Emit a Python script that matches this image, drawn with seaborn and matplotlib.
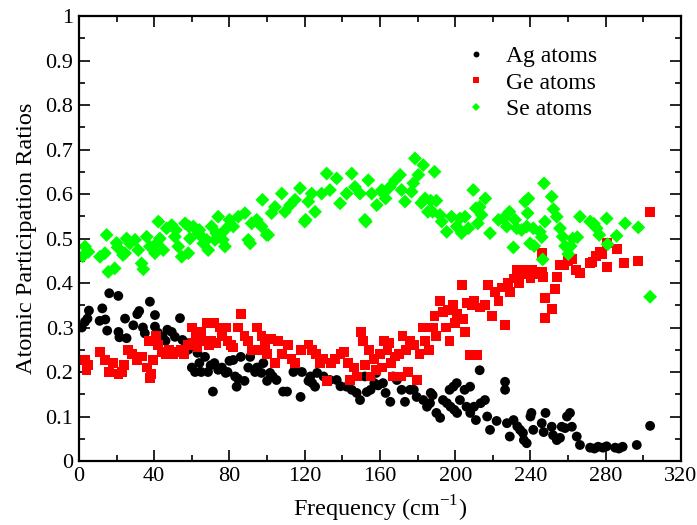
import matplotlib
matplotlib.use("Agg")
import matplotlib.pyplot as plt
from matplotlib.ticker import MultipleLocator, FormatStrFormatter
import seaborn as sns
import pandas as pd

# Participation ratios of Ag atoms per vibrational mode: (frequency, ratio)
ag_freq = [1.5, 3.2, 5.3, 4.5, 11, 12.4, 14, 15, 16.1, 20.9, 21, 21.5, 24.5, 25.3, 28.9, 31, 32, 34, 35,
           37.7, 40.4, 40.4, 42, 44.5, 46, 47, 49.3, 51, 53.7, 55, 57, 58, 60, 61.7, 63, 64, 65, 67, 68.6,
           70, 71.2, 72, 74, 76, 78, 79, 80, 82, 83, 83.8, 84.5, 86, 88, 90, 91, 93.6, 94.6, 97, 98, 100,
           101.6, 103, 105, 108.5, 110.6, 114, 115, 117.8, 118.5, 122, 123, 124, 125.5, 126.6, 130, 133.4,
           137, 139, 142.3, 145, 147.6, 149.4, 152, 153, 155, 157, 158, 159, 161.6, 163, 165.5, 167, 169,
           171.5, 173.3, 176, 178, 179.5, 183, 185, 186.6, 187, 188, 190, 192, 193.5, 195.6, 197, 197.5,
           199, 199.5, 200.8, 201, 202.5, 205, 206, 207.9, 208, 210, 211, 213, 213.5, 215.8, 217, 218.5,
           222, 226.5, 226.5, 227.5, 229, 231, 233, 234.5, 236, 236.5, 238, 240, 240.5, 241.5, 246, 247,
           248, 251.3, 252, 254, 255.7, 256.6, 258.4, 259.4, 261, 262, 264.6, 266.3, 271.7, 274, 276,
           278.5, 280.5, 285, 287, 289, 296.5, 303.6]
ag_ratio = [0.30, 0.313, 0.338, 0.32, 0.315, 0.343, 0.318, 0.293, 0.377, 0.371, 0.29, 0.278, 0.32, 0.276,
            0.305, 0.33, 0.337, 0.30, 0.287, 0.358, 0.328, 0.302, 0.288, 0.279, 0.27, 0.295, 0.29, 0.279,
            0.321, 0.272, 0.265, 0.25, 0.21, 0.20, 0.243, 0.22, 0.20, 0.234, 0.20, 0.215, 0.156, 0.22,
            0.205, 0.21, 0.198, 0.20, 0.225, 0.227, 0.19, 0.167, 0.185, 0.234, 0.18, 0.21, 0.234, 0.20,
            0.21, 0.198, 0.22, 0.18, 0.198, 0.19, 0.182, 0.156, 0.156, 0.20, 0.21, 0.144, 0.20, 0.18, 0.19,
            0.175, 0.167, 0.198, 0.19, 0.182, 0.182, 0.168, 0.167, 0.16, 0.153, 0.137, 0.19, 0.155, 0.16,
            0.175, 0.198, 0.17, 0.175, 0.153, 0.133, 0.19, 0.182, 0.16, 0.133, 0.16, 0.16, 0.144, 0.137,
            0.122, 0.13, 0.153, 0.148, 0.108, 0.097, 0.137, 0.13, 0.16, 0.122, 0.167, 0.115, 0.175, 0.108,
            0.137, 0.16, 0.122, 0.167, 0.108, 0.122, 0.092, 0.204, 0.13, 0.137, 0.10, 0.07, 0.09, 0.178,
            0.16, 0.085, 0.055, 0.092, 0.078, 0.07, 0.063, 0.047, 0.04, 0.10, 0.108, 0.07, 0.085, 0.065,
            0.108, 0.077, 0.058, 0.047, 0.052, 0.077, 0.074, 0.10, 0.108, 0.077, 0.055, 0.036, 0.03, 0.028,
            0.032, 0.03, 0.033, 0.03, 0.028, 0.032, 0.036, 0.079]

# Participation ratios of Ge atoms
ge_freq = [3, 4, 5, 11, 14, 16, 18, 21, 23, 24, 26, 28, 31, 33.5, 36, 37, 37.8, 38.5, 39.5, 41, 42, 44,
           46, 48, 50, 52, 54, 56, 58, 60, 60.5, 62, 63, 65, 66, 68, 69, 70, 72, 73, 75, 76, 78, 79, 81,
           82, 84.5, 86, 88, 90, 92, 94.7, 97, 97.5, 99, 100, 102, 104, 106, 108, 111, 113, 115, 118, 122,
           124, 126, 128, 130, 132, 134, 136, 139, 141, 143, 144, 146, 148, 150, 151, 152, 154, 155, 157,
           158, 160, 161, 162, 164, 165, 166, 167, 168, 170, 171, 172, 174, 175, 176, 178, 179.5, 181,
           183, 184, 186, 188, 189, 190, 192, 193.5, 195, 196, 197, 199, 200, 201, 203.4, 204, 205, 206,
           208, 209, 210, 211.6, 213, 216, 217.5, 219.5, 221, 223, 225, 226.5, 228, 229, 231, 233, 234,
           236, 238, 240, 241, 243, 245, 246, 246, 246.5, 247.7, 247.7, 251.3, 253, 254, 255.7, 258, 260,
           262, 264, 266.3, 271.7, 273, 275, 277, 278, 280.5, 280.5, 285.8, 289.7, 297, 303.6]
ge_ratio = [0.227, 0.205, 0.215, 0.245, 0.227, 0.20, 0.22, 0.195, 0.20, 0.215, 0.25, 0.24, 0.227, 0.235,
            0.21, 0.27, 0.187, 0.195, 0.227, 0.28, 0.26, 0.245, 0.24, 0.25, 0.24, 0.245, 0.25, 0.24, 0.26,
            0.30, 0.265, 0.28, 0.255, 0.29, 0.27, 0.31, 0.26, 0.27, 0.31, 0.265, 0.30, 0.28, 0.30, 0.27,
            0.26, 0.255, 0.30, 0.33, 0.28, 0.27, 0.25, 0.30, 0.28, 0.25, 0.26, 0.24, 0.275, 0.22, 0.27,
            0.24, 0.26, 0.23, 0.22, 0.25, 0.262, 0.25, 0.24, 0.22, 0.23, 0.18, 0.22, 0.23, 0.24, 0.245,
            0.22, 0.182, 0.21, 0.19, 0.29, 0.27, 0.215, 0.25, 0.19, 0.23, 0.205, 0.24, 0.21, 0.27, 0.25,
            0.265, 0.22, 0.19, 0.235, 0.24, 0.19, 0.28, 0.25, 0.20, 0.27, 0.26, 0.182, 0.24, 0.30, 0.27,
            0.25, 0.30, 0.325, 0.28, 0.36, 0.335, 0.30, 0.34, 0.27, 0.35, 0.31, 0.33, 0.395, 0.32, 0.29,
            0.355, 0.238, 0.35, 0.36, 0.238, 0.345, 0.35, 0.395, 0.325, 0.38, 0.36, 0.39, 0.305, 0.40,
            0.38, 0.41, 0.43, 0.40, 0.42, 0.43, 0.41, 0.43, 0.42, 0.42, 0.467, 0.425, 0.414, 0.366, 0.321,
            0.341, 0.386, 0.414, 0.44, 0.44, 0.45, 0.454, 0.43, 0.422, 0.445, 0.447, 0.46, 0.47, 0.465,
            0.49, 0.436, 0.476, 0.445, 0.45, 0.56]

# Participation ratios of Se atoms
se_freq = [2, 3.2, 5, 11.2, 13.8, 14.7, 15.6, 19, 20, 20.5, 23.4, 24.5, 25.3, 27.1, 29.8, 31.5, 33.3,
           34.2, 36, 37.7, 40.4, 41.3, 42.2, 43, 44.8, 46.6, 49.3, 51, 51.5, 52.8, 54.6, 56.4, 58.1, 58.5,
           59, 60.8, 63.4, 64, 65.2, 66.1, 67.9, 68.7, 70.5, 72.3, 73, 74, 75.9, 76.5, 77.6, 79.4, 80, 82,
           84.7, 88.2, 90, 91, 91.8, 94.5, 97.1, 97.5, 99.8, 100.6, 102.4, 104.2, 107.8, 109.5, 112.2,
           114.8, 117.5, 120, 120.5, 121.9, 123.7, 125.5, 129, 131.7, 133.4, 137, 138.8, 142.3, 145,
           146.7, 149.4, 152, 152.5, 153.8, 155.6, 158.3, 161, 161.8, 163, 165.3, 168, 170.7, 171.5,
           173.3, 176.8, 177.7, 178.6, 180.4, 182, 183, 184, 185.5, 187, 188, 189, 190, 191.9, 192.8,
           195.5, 198, 200.8, 202.5, 203.4, 205.2, 207, 209.6, 211, 212, 213, 214, 216, 218.5, 223, 225.6,
           227.4, 228.8, 230.9, 231.8, 232.7, 235.3, 237.1, 238, 238.5, 238.9, 239.8, 241.5, 242, 245,
           246, 246.5, 247.2, 247.7, 251.3, 252.2, 254, 255.7, 257.1, 258.4, 260.1, 261.4, 262.5, 264.9,
           266.3, 271.7, 273.8, 275.2, 276.6, 280.5, 281, 285.8, 290.3, 297.3, 303.6]
se_ratio = [0.46, 0.482, 0.47, 0.459, 0.467, 0.508, 0.425, 0.433, 0.49, 0.48, 0.463, 0.467, 0.50, 0.489,
            0.497, 0.474, 0.444, 0.431, 0.504, 0.482, 0.467, 0.489, 0.538, 0.50, 0.474, 0.523, 0.53, 0.504,
            0.519, 0.482, 0.459, 0.534, 0.467, 0.527, 0.50, 0.527, 0.512, 0.519, 0.504, 0.489, 0.497,
            0.474, 0.527, 0.497, 0.512, 0.549, 0.512, 0.497, 0.482, 0.527, 0.542, 0.527, 0.549, 0.557,
            0.497, 0.489, 0.534, 0.542, 0.527, 0.587, 0.508, 0.508, 0.557, 0.571, 0.601, 0.56, 0.575,
            0.587, 0.613, 0.538, 0.542, 0.583, 0.601, 0.56, 0.601, 0.646, 0.609, 0.635, 0.579, 0.601,
            0.646, 0.616, 0.601, 0.542, 0.538, 0.631, 0.601, 0.575, 0.609, 0.601, 0.59, 0.616, 0.631,
            0.643, 0.609, 0.583, 0.605, 0.624, 0.68, 0.643, 0.58, 0.665, 0.59, 0.56, 0.585, 0.56, 0.65,
            0.585, 0.553, 0.538, 0.515, 0.549, 0.527, 0.545, 0.512, 0.549, 0.523, 0.609, 0.568, 0.534,
            0.571, 0.553, 0.59, 0.512, 0.542, 0.545, 0.527, 0.56, 0.48, 0.542, 0.523, 0.519, 0.583, 0.527,
            0.557, 0.59, 0.489, 0.523, 0.483, 0.515, 0.503, 0.453, 0.624, 0.538, 0.594, 0.566, 0.549,
            0.523, 0.504, 0.483, 0.465, 0.483, 0.50, 0.503, 0.549, 0.538, 0.533, 0.523, 0.508, 0.545,
            0.487, 0.506, 0.534, 0.525, 0.369]

labels = ["Ag atoms", "Ge atoms", "Se atoms"]

df = pd.concat([
    pd.DataFrame({"freq": ag_freq, "ratio": ag_ratio, "set": labels[0]}),
    pd.DataFrame({"freq": ge_freq, "ratio": ge_ratio, "set": labels[1]}),
    pd.DataFrame({"freq": se_freq, "ratio": se_ratio, "set": labels[2]}),
], ignore_index=True)

sns.set_theme(style="ticks")
plt.rcParams["font.family"] = ["Liberation Serif", "DejaVu Serif"]
plt.rcParams["mathtext.fontset"] = "custom"
plt.rcParams["mathtext.rm"] = "Liberation Serif"
plt.rcParams["text.color"] = "black"
plt.rcParams["axes.labelcolor"] = "black"

fig = plt.figure(figsize=(6.97, 5.25), dpi=100)
ax = fig.add_axes([0.1133, 0.1219, 0.8637, 0.8476])

sns.scatterplot(
    data=df, x="freq", y="ratio", hue="set", style="set", ax=ax,
    palette={labels[0]: "#000000", labels[1]: "#ff0000", labels[2]: "#00ff00"},
    markers={labels[0]: "o", labels[1]: "s", labels[2]: "D"},
    hue_order=labels, style_order=labels,
    s=50, linewidth=0, alpha=1,
)

ax.set_xlim(0, 320)
ax.set_ylim(0, 1)
ax.xaxis.set_major_locator(MultipleLocator(40))
ax.xaxis.set_minor_locator(MultipleLocator(20))
ax.yaxis.set_major_locator(MultipleLocator(0.1))
ax.yaxis.set_minor_locator(MultipleLocator(0.05))
ax.yaxis.set_major_formatter(FormatStrFormatter("%g"))
ax.tick_params(which="both", direction="in", top=True, right=True, width=1.2, colors="black",
               labelcolor="black", labelsize=16, pad=4)
ax.tick_params(which="major", length=8)
ax.tick_params(which="minor", length=4)
for sp in ax.spines.values():
    sp.set_linewidth(1.6)
    sp.set_color("black")

ax.set_xlabel("Frequency (cm$^{\\mathregular{-1}}$)", fontsize=17.5, labelpad=6, color="black")
ax.set_ylabel("Atomic Participation Ratios", fontsize=17.5, labelpad=6, color="black")

leg = ax.legend(loc="upper right", bbox_to_anchor=(0.885, 0.965), frameon=False, fontsize=17,
                handletextpad=0.3, labelspacing=0.2, markerscale=0.6, borderaxespad=0.2)
for t in leg.get_texts():
    t.set_color("black")

fig.savefig("out.png", dpi=100)
